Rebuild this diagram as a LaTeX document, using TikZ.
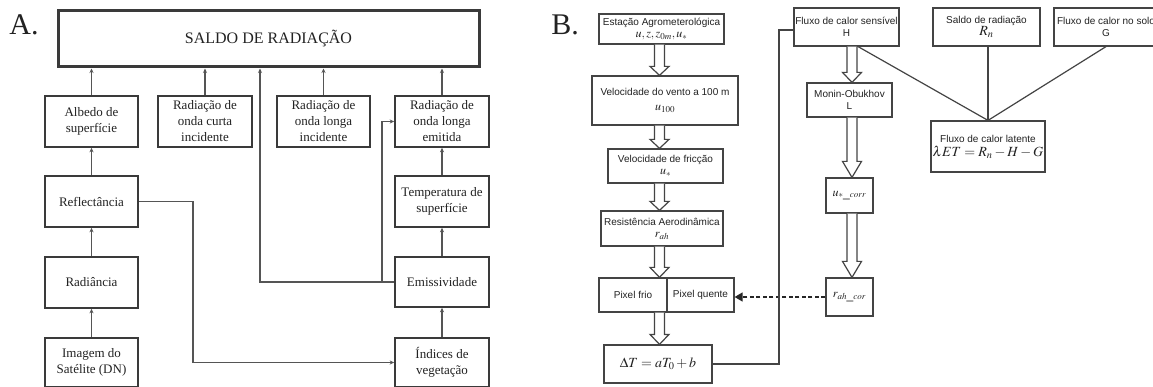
\documentclass[tikz,border=0pt]{standalone}
\usepackage{mathptmx}
\usepackage{fontspec}
\setmainfont{Liberation Serif}
\newfontfamily\sfB{Liberation Sans}
\usetikzlibrary{arrows.meta,calc}
\definecolor{lineA}{HTML}{3A3A3A}
\definecolor{lineB}{HTML}{444444}
\definecolor{arrA}{HTML}{555555}
\definecolor{txt}{HTML}{222222}
\newcommand\hollowarr[4]{%
  \path[harr] let \p1=(#1.south), \p2=(#2.north) in
    ({#3pt-5pt},\y1) -- ({#3pt-5pt},{\y2+#4pt}) -- ({#3pt-9.5pt},{\y2+#4pt}) -- ({#3pt},\y2)
    -- ({#3pt+9.5pt},{\y2+#4pt}) -- ({#3pt+5pt},{\y2+#4pt}) -- ({#3pt+5pt},\y1);}
\newcommand\mth[1]{{\fontsize{12}{13}\selectfont$#1$}}
\begin{document}
\begin{tikzpicture}[x=1pt,y=-1pt,
  boxA/.style={draw=lineA,line width=1.6pt,text=txt,align=center,inner sep=0pt,
    font=\fontsize{13}{16}\selectfont},
  boxB/.style={draw=lineB,line width=1.2pt,text=txt,align=center,inner sep=0pt,
    font=\sfB\fontsize{10}{12}\selectfont},
  arrowA/.style={draw=arrA,line width=1.1pt,-{Stealth[length=4.5pt,width=4pt]}},
  lineBst/.style={draw=lineB,line width=1.2pt},
  harr/.style={draw=lineB,line width=1.2pt,fill=white,line join=miter},
  lab/.style={text=txt,font=\fontsize{30}{30}\selectfont}]
\useasboundingbox[fill=white] (0,0) rectangle (1153,387);

% ---------------- Panel A ----------------
\node[lab] (labA) at (24,25) {A.};
\node[boxA,line width=3pt,minimum width=421pt,minimum height=56pt,font=\fontsize{16}{18}\selectfont] (saldo) at (268.5,39) {SALDO DE RADIAÇÃO};
\node[boxA,minimum width=93pt,minimum height=51pt] (albedo) at (91.5,121.5) {Albedo de\\superfície};
\node[boxA,minimum width=94pt,minimum height=51pt] (curta) at (205,121.5) {Radiação de\\onda curta\\incidente};
\node[boxA,minimum width=93pt,minimum height=51pt] (longinc) at (323.5,121.5) {Radiação de\\onda longa\\incidente};
\node[boxA,minimum width=94pt,minimum height=51pt] (emit) at (442,121.5) {Radiação de\\onda longa\\emitida};
\node[boxA,minimum width=94pt,minimum height=51pt] (temp) at (442,201.5) {Temperatura de\\superfície};
\node[boxA,minimum width=94pt,minimum height=50pt] (emis) at (442,282) {Emissividade};
\node[boxA,minimum width=94pt,minimum height=49pt] (indices) at (442,362.5) {Índices de\\vegetação};
\node[boxA,minimum width=93pt,minimum height=51pt] (refl) at (91.5,201.5) {Reflectância};
\node[boxA,minimum width=93pt,minimum height=51pt] (radi) at (91.5,282.5) {Radiância};
\node[boxA,minimum width=93pt,minimum height=49pt] (imagem) at (91.5,362.5) {Imagem do\\Satélite (DN)};

\draw[arrowA] (albedo.north) -- (albedo.north |- saldo.south);
\draw[arrowA] (curta.north) -- (curta.north |- saldo.south);
\draw[arrowA] (longinc.north) -- (longinc.north |- saldo.south);
\draw[arrowA] (emit.north) -- (emit.north |- saldo.south);
\draw[arrowA] (refl.north) -- (albedo.south);
\draw[arrowA] (radi.north) -- (refl.south);
\draw[arrowA] (imagem.north) -- (radi.south);
\draw[arrowA] (temp.north) -- (emit.south);
\draw[arrowA] (emis.north) -- (temp.south);
\draw[arrowA] (indices.north) -- (emis.south);
\coordinate (eL) at (260,282);
\coordinate (eB) at (382,282);
\coordinate (eT) at (382,121.5);
\draw[arrowA] (emis.west) -- (eL) -- (eL |- saldo.south);
\draw[arrowA] (eB) -- (eT) -- (emit.west);
\coordinate (rA) at (193,201.5);
\coordinate (rB) at (193,362.5);
\draw[arrowA] (refl.east) -- (rA) -- (rB) -- (indices.west);

% ---------------- Panel B ----------------
\node[lab] (labB) at (565,25) {B.};
\node[boxB,minimum width=125pt,minimum height=30pt] (estacao) at (661.5,29) {Estação Agrometerológica\\\mth{u, z, z_{0m}, u_{*}}};
\node[boxB,minimum width=146pt,minimum height=49pt] (vento) at (665,100.5) {Velocidade do vento a 100 m\\[3pt]\mth{u_{100}}};
\node[boxB,minimum width=115pt,minimum height=34pt] (friccao) at (665.5,166) {Velocidade de fricção\\\mth{u_{*}}};
\node[boxB,minimum width=122pt,minimum height=35pt] (resist) at (662,228.5) {Resistência Aerodinâmica\\\mth{r_{ah}}};
\node[boxB,minimum width=68pt,minimum height=34pt] (pixfrio) at (633,295) {Pixel frio};
\node[boxB,minimum width=67pt,minimum height=34pt] (pixquente) at (700.5,295) {Pixel quente};
\node[boxB,minimum width=108pt,minimum height=38pt,font=\fontsize{14}{16}\selectfont] (deltaT) at (658,364) {$\Delta T = aT_0 + b$};
\node[boxB,minimum width=105pt,minimum height=38pt] (fsens) at (846.5,27) {Fluxo de calor sensível\\H};
\node[boxB,minimum width=85pt,minimum height=34pt] (monin) at (849.5,100) {Monin-Obukhov\\L};
\node[boxB,minimum width=47pt,minimum height=35pt] (ucorr) at (849.5,195.5) {\mth{u_{*\_corr}}};
\node[boxB,minimum width=47pt,minimum height=38pt] (rah) at (849.5,297) {\mth{r_{ah\_cor}}};
\node[boxB,minimum width=107pt,minimum height=38pt] (saldoB) at (986.5,27) {Saldo de radiação\\{\fontsize{14}{14}\selectfont$R_n$}};
\node[boxB,minimum width=104pt,minimum height=38pt] (fsolo) at (1106,27) {Fluxo de calor no solo\\G};
\node[boxB,minimum width=114pt,minimum height=51pt] (flat) at (988,146.5) {Fluxo de calor latente\\[2pt]{\fontsize{14}{16}\selectfont$\lambda ET = R_n - H - G$}};

\hollowarr{estacao}{vento}{659.5}{9}
\hollowarr{vento}{friccao}{659.5}{9}
\hollowarr{friccao}{resist}{659.5}{9}
\hollowarr{resist}{pixfrio}{659.5}{10}
\hollowarr{pixfrio}{deltaT}{659.5}{10}
\hollowarr{fsens}{monin}{852}{10}
\hollowarr{monin}{ucorr}{852}{16}
\hollowarr{ucorr}{rah}{852}{16}

\draw[draw=black!85,line width=1.4pt,dash pattern=on 4pt off 2.5pt,-{Triangle[length=8pt,width=9pt]}] (rah.west) -- (rah.west -| pixquente.east);

\coordinate (d1) at (779,364);
\coordinate (d2) at (779,30);
\draw[lineBst] (deltaT.east) -- (d1) -- (d2) -- (d2 -| fsens.west);

\coordinate (hs) at (857,46);
\draw[lineBst] (hs) -- (flat.north);
\draw[lineBst] (saldoB.south -| flat.north) -- (flat.north);
\draw[lineBst] (fsolo.south) -- (flat.north);
\end{tikzpicture}
\end{document}
